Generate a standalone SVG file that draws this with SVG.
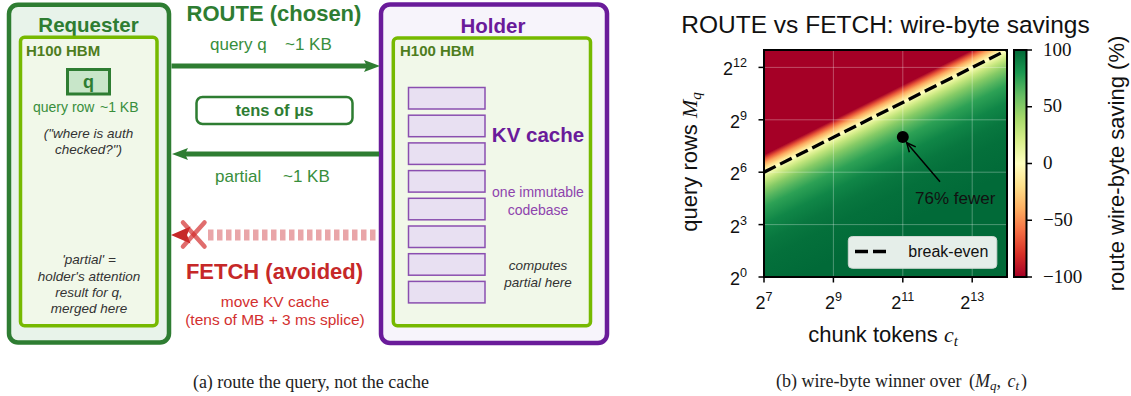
<svg xmlns="http://www.w3.org/2000/svg" width="1131" height="396" viewBox="0 0 1131 396">
<style>
text{font-family:"Liberation Sans",Arial,sans-serif}
.b{font-weight:bold}
.it{font-style:italic;fill:#333;font-size:13.5px}
.gq{fill:#388e3c;font-size:17px}
.hbm{font-size:15px;font-weight:bold;fill:#4e7d1e}
.kv{fill:#e8e0f2;stroke:#8a4fb0;stroke-width:1.5}
.tk{stroke:#000;stroke-width:1.5}
.tl{font-size:18px;fill:#111}
.cb{font-family:"Liberation Serif",serif;font-size:19px;fill:#111}
.math{font-family:"Liberation Serif",serif;font-style:italic}
.cap{font-family:"Liberation Serif",serif;font-size:18px;fill:#222}
.grid{stroke:#fff;stroke-opacity:.3;stroke-width:1}
.red{fill:#d32f2f;font-size:15.5px}
</style>
<defs>
<marker id="ga" markerUnits="userSpaceOnUse" markerWidth="16" markerHeight="12" refX="3" refY="6" orient="auto"><path d="M0,0 L16,6 L0,12 L3,6 z" fill="#2e7d32"/></marker>
<marker id="oa" markerUnits="userSpaceOnUse" markerWidth="12" markerHeight="12" refX="10" refY="6" orient="auto" overflow="visible"><path d="M1,1.8 L10,6 L1,10.2" fill="none" stroke="#000" stroke-width="1.5"/></marker>
<linearGradient id="heat" gradientUnits="userSpaceOnUse" x1="757" y1="158.26" x2="813.06" y2="269.76">
<stop offset="0" stop-color="#a50026"/>
<stop offset="0.03125" stop-color="#e85437"/>
<stop offset="0.0625" stop-color="#fca95f"/>
<stop offset="0.09375" stop-color="#fee18d"/>
<stop offset="0.125" stop-color="#ffffbf"/>
<stop offset="0.15625" stop-color="#e1f296"/>
<stop offset="0.1875" stop-color="#c2e57c"/>
<stop offset="0.25" stop-color="#86cb66"/>
<stop offset="0.3125" stop-color="#55b55f"/>
<stop offset="0.375" stop-color="#2da155"/>
<stop offset="0.5" stop-color="#108647"/>
<stop offset="0.625" stop-color="#08773f"/>
<stop offset="0.75" stop-color="#04703b"/>
<stop offset="1" stop-color="#016a38"/>
</linearGradient>
<linearGradient id="cbar" x1="0" y1="1" x2="0" y2="0">
<stop offset="0" stop-color="#a50026"/>
<stop offset="0.1" stop-color="#d73027"/>
<stop offset="0.2" stop-color="#f46d43"/>
<stop offset="0.3" stop-color="#fdae61"/>
<stop offset="0.4" stop-color="#fee08b"/>
<stop offset="0.5" stop-color="#ffffbf"/>
<stop offset="0.6" stop-color="#d9ef8b"/>
<stop offset="0.7" stop-color="#a6d96a"/>
<stop offset="0.8" stop-color="#66bd63"/>
<stop offset="0.9" stop-color="#1a9850"/>
<stop offset="1" stop-color="#006837"/>
</linearGradient>
<clipPath id="ax"><rect x="764" y="50" width="243" height="227"/></clipPath>
</defs>

<g id="requester">
<rect x="9" y="4.7" width="160" height="337.8" rx="9" fill="#e8f3ea" stroke="#2e7d32" stroke-width="4.5"/>
<text x="88.5" y="32" text-anchor="middle" class="b" font-size="20.5" fill="#2e7d32">Requester</text>
<rect x="20.5" y="37.3" width="136.5" height="288.4" rx="4" fill="#f1f8e9" stroke="#76b900" stroke-width="3.5"/>
<text x="26" y="56" class="hbm">H100 HBM</text>
<rect x="67.5" y="69.5" width="42" height="24.5" fill="#c8e6c9" stroke="#2e7d32" stroke-width="3"/>
<text x="88.5" y="87.5" text-anchor="middle" class="b" font-size="18" fill="#2e7d32">q</text>
<text x="33" y="112" fill="#388e3c" font-size="14">query row</text>
<text x="100" y="112" fill="#388e3c" font-size="14">~1 KB</text>
<text x="88.5" y="137.5" text-anchor="middle" class="it">("where is auth</text>
<text x="88.5" y="153.5" text-anchor="middle" class="it">checked?")</text>
<text x="89" y="264" text-anchor="middle" class="it">'partial' =</text>
<text x="89" y="280.7" text-anchor="middle" class="it">holder's attention</text>
<text x="89" y="297.3" text-anchor="middle" class="it">result for q,</text>
<text x="89" y="313.3" text-anchor="middle" class="it">merged here</text>
</g>

<g id="holder">
<rect x="381" y="4.5" width="226" height="338.5" rx="9" fill="#f7f4fb" stroke="#6a1b9a" stroke-width="4.5"/>
<text x="493" y="32.5" text-anchor="middle" class="b" font-size="20.5" fill="#6a1b9a">Holder</text>
<rect x="393.3" y="38" width="197.2" height="287.7" rx="4" fill="#f1f8e9" stroke="#76b900" stroke-width="3.5"/>
<text x="400" y="56" class="hbm">H100 HBM</text>
<rect class="kv" x="408.5" y="87.5" width="76.5" height="21.5"/>
<rect class="kv" x="408.5" y="115.2" width="76.5" height="21.5"/>
<rect class="kv" x="408.5" y="142.9" width="76.5" height="21.5"/>
<rect class="kv" x="408.5" y="170.6" width="76.5" height="21.5"/>
<rect class="kv" x="408.5" y="198.3" width="76.5" height="21.5"/>
<rect class="kv" x="408.5" y="226" width="76.5" height="21.5"/>
<rect class="kv" x="408.5" y="253.7" width="76.5" height="21.5"/>
<rect class="kv" x="408.5" y="281.4" width="76.5" height="21.5"/>
<text x="538" y="141.5" text-anchor="middle" class="b" font-size="20.5" fill="#6a1b9a">KV cache</text>
<text x="538" y="196.5" text-anchor="middle" font-size="14" fill="#8e44ad">one immutable</text>
<text x="538" y="214.5" text-anchor="middle" font-size="14" fill="#8e44ad">codebase</text>
<text x="538" y="270" text-anchor="middle" class="it" font-size="14">computes</text>
<text x="538" y="286.5" text-anchor="middle" class="it" font-size="14">partial here</text>
</g>

<g id="route-label">
<text x="274" y="21" text-anchor="middle" class="b" font-size="22" fill="#2e7d32">ROUTE (chosen)</text>
<text x="210" y="49.5" class="gq">query q</text>
<text x="285" y="49.5" class="gq">~1 KB</text>
<text x="215" y="182" class="gq">partial</text>
<text x="283" y="182" class="gq">~1 KB</text>
</g>

<g id="latency">
<rect x="196.5" y="97" width="156" height="27" rx="6" fill="#fff" stroke="#2e7d32" stroke-width="2.5"/>
<text x="274.5" y="115.5" text-anchor="middle" class="b" font-size="16.5" fill="#2e7d32">tens of μs</text>
</g>

<g id="fetch-label">
<text x="274.5" y="279" text-anchor="middle" class="b" font-size="22" fill="#c62828">FETCH (avoided)</text>
<text x="275" y="306.5" text-anchor="middle" class="red">move KV cache</text>
<text x="275" y="325" text-anchor="middle" class="red">(tens of MB + 3 ms splice)</text>
</g>

<g id="connectors">
<line x1="171.5" y1="66" x2="367" y2="66" stroke="#2e7d32" stroke-width="5" marker-end="url(#ga)"/>
<line x1="379" y1="154" x2="185" y2="154" stroke="#2e7d32" stroke-width="5" marker-end="url(#ga)"/>
<line x1="208" y1="235" x2="379" y2="235" stroke="#e9a5a8" stroke-width="11" stroke-dasharray="5.5 3.5"/>
<polygon points="171,235 190.5,226.5 187,235 190.5,243.5" fill="#c62828"/>
<g stroke="#d32f2f" stroke-opacity="0.7" stroke-width="4.5" stroke-linecap="round">
<line x1="183" y1="222.5" x2="204.5" y2="246.5"/>
<line x1="183" y1="246.5" x2="204.5" y2="222.5"/>
</g>
</g>

<g id="plot">
<text x="885.5" y="33" text-anchor="middle" font-size="24.5" fill="#111">ROUTE vs FETCH: wire-byte savings</text>
<g clip-path="url(#ax)">
<rect x="764" y="50" width="243" height="227" fill="url(#heat)"/>
<g class="grid">
<line x1="833.4" y1="50" x2="833.4" y2="277"/>
<line x1="902.8" y1="50" x2="902.8" y2="277"/>
<line x1="972.2" y1="50" x2="972.2" y2="277"/>
<line x1="764" y1="224.6" x2="1007" y2="224.6"/>
<line x1="764" y1="172.2" x2="1007" y2="172.2"/>
<line x1="764" y1="119.8" x2="1007" y2="119.8"/>
<line x1="764" y1="67.4" x2="1007" y2="67.4"/>
</g>
<line x1="764" y1="172.2" x2="1007" y2="50" stroke="#000" stroke-width="3.3" stroke-dasharray="13 5"/>
</g>
<rect x="764" y="50" width="243" height="227" fill="none" stroke="#000" stroke-width="2"/>
<circle cx="902.8" cy="137" r="6" fill="#000"/>
<line x1="940" y1="181.7" x2="906.7" y2="142.7" stroke="#000" stroke-width="1.5" marker-end="url(#oa)"/>
<text x="915" y="203.5" font-size="17" fill="#111">76% fewer</text>
<rect x="848.3" y="236.5" width="148.5" height="31.8" rx="4" fill="#e5eee9" stroke="#cfd8d3" stroke-width="1"/>
<line x1="855" y1="251.5" x2="889" y2="251.5" stroke="#000" stroke-width="3.3" stroke-dasharray="13 5"/>
<text x="908.3" y="256.7" font-size="16" fill="#111">break-even</text>
<g class="tk">
<line x1="764" y1="277" x2="764" y2="282.5"/>
<line x1="833.4" y1="277" x2="833.4" y2="282.5"/>
<line x1="902.8" y1="277" x2="902.8" y2="282.5"/>
<line x1="972.2" y1="277" x2="972.2" y2="282.5"/>
<line x1="758.5" y1="277" x2="764" y2="277"/>
<line x1="758.5" y1="224.6" x2="764" y2="224.6"/>
<line x1="758.5" y1="172.2" x2="764" y2="172.2"/>
<line x1="758.5" y1="119.8" x2="764" y2="119.8"/>
<line x1="758.5" y1="67.4" x2="764" y2="67.4"/>
</g>
<g class="tl" text-anchor="middle">
<text x="764" y="309.3">2<tspan dy="-8" font-size="12.6">7</tspan></text>
<text x="833.4" y="309.3">2<tspan dy="-8" font-size="12.6">9</tspan></text>
<text x="902.8" y="309.3">2<tspan dy="-8" font-size="12.6">11</tspan></text>
<text x="972.2" y="309.3">2<tspan dy="-8" font-size="12.6">13</tspan></text>
</g>
<g class="tl" text-anchor="end">
<text x="747" y="285">2<tspan dy="-8" font-size="12.6">0</tspan></text>
<text x="747" y="232.6">2<tspan dy="-8" font-size="12.6">3</tspan></text>
<text x="747" y="180.2">2<tspan dy="-8" font-size="12.6">6</tspan></text>
<text x="747" y="127.8">2<tspan dy="-8" font-size="12.6">9</tspan></text>
<text x="747" y="75.4">2<tspan dy="-8" font-size="12.6">12</tspan></text>
</g>
<text x="883" y="341.5" text-anchor="middle" font-size="22" fill="#111">chunk tokens <tspan class="math">c</tspan><tspan class="math" font-size="15" dy="4">t</tspan></text>
<text transform="translate(697,162) rotate(-90)" text-anchor="middle" font-size="22" fill="#111">query rows <tspan class="math">M</tspan><tspan class="math" font-size="15" dy="4">q</tspan></text>
<rect x="1014" y="50" width="12.5" height="227" fill="url(#cbar)" stroke="#000" stroke-width="2"/>
<g class="tk">
<line x1="1026.5" y1="50" x2="1032" y2="50"/>
<line x1="1026.5" y1="106.75" x2="1032" y2="106.75"/>
<line x1="1026.5" y1="163.5" x2="1032" y2="163.5"/>
<line x1="1026.5" y1="220.25" x2="1032" y2="220.25"/>
<line x1="1026.5" y1="277" x2="1032" y2="277"/>
</g>
<text x="1043" y="55.5" class="cb">100</text>
<text x="1043" y="112.3" class="cb">50</text>
<text x="1043" y="169" class="cb">0</text>
<text x="1043" y="225.8" class="cb">−50</text>
<text x="1043" y="282.5" class="cb">−100</text>
<text transform="translate(1124,163.5) rotate(-90)" text-anchor="middle" font-size="22" fill="#111">route wire-byte saving (%)</text>
</g>

<g id="captions">
<text x="311" y="388" text-anchor="middle" class="cap">(a) route the query, not the cache</text>
<text x="901.5" y="387" text-anchor="middle" class="cap">(b) wire-byte winner over <tspan dx="3">(</tspan><tspan font-style="italic">M</tspan><tspan font-style="italic" font-size="13" dy="3">q</tspan><tspan dy="-3">, </tspan><tspan font-style="italic" dx="2">c</tspan><tspan font-style="italic" font-size="13" dy="3">t</tspan><tspan dy="-3" dx="2">)</tspan></text>
</g>
</svg>
